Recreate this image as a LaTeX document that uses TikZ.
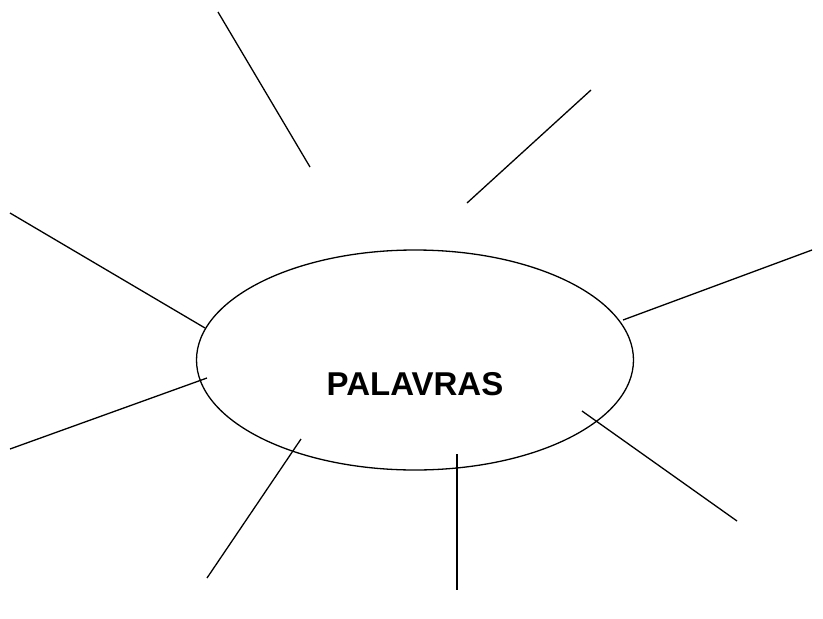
\documentclass[tikz,border=0pt]{standalone}
\usepackage{fontspec}
\setmainfont{Liberation Sans}
\usetikzlibrary{shapes.geometric}

\tikzset{
  bubble/.style={draw, ellipse, line width=1.3pt, minimum width=437pt,
                 minimum height=220pt, inner sep=0pt},
  ray/.style={line width=1.3pt},
  word/.style={font=\fontsize{33}{38}\selectfont\bfseries}
}

\begin{document}
\begin{tikzpicture}[x=1pt, y=-1pt]
    \useasboundingbox (0,0) rectangle (823,619);
    % central ellipse with the word
    \node[bubble] (centre) at (415,360) {};
    \node[word] (label) at (415,384) {PALAVRAS};
    % ray end points
    \coordinate (a1) at (218,12);   \coordinate (a2) at (310,167);
    \coordinate (b1) at (591,90);   \coordinate (b2) at (467,203);
    \coordinate (c1) at (10,213);   \coordinate (c2) at (205,328);
    \coordinate (d1) at (623,320);  \coordinate (d2) at (812,250);
    \coordinate (e1) at (207,378);  \coordinate (e2) at (10,449);
    \coordinate (f1) at (582,411);  \coordinate (f2) at (737,521);
    \coordinate (g1) at (301,439);  \coordinate (g2) at (207,578);
    \coordinate (h1) at (457,454);  \coordinate (h2) at (457,590);
    % rays
    \foreach \r in {a,b,c,d,e,f,g,h}
      \draw[ray] (\r1) -- (\r2);
\end{tikzpicture}
\end{document}
